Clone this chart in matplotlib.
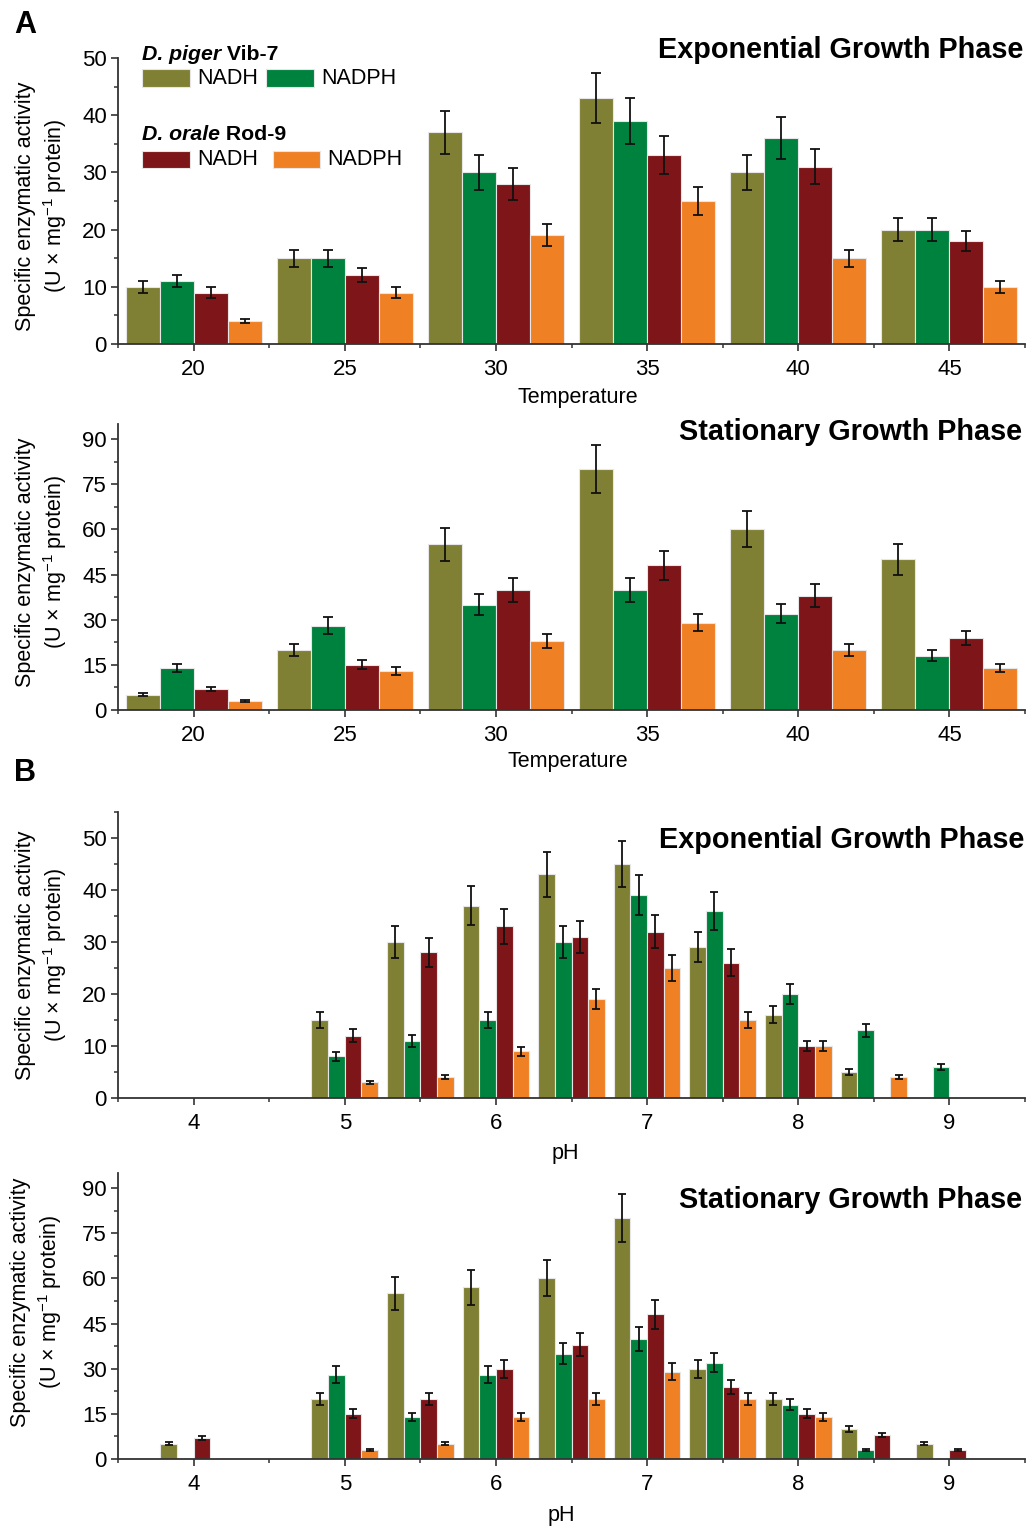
import numpy as np
import matplotlib
matplotlib.use("Agg")
import matplotlib.pyplot as plt
from matplotlib.patches import Rectangle
from matplotlib.ticker import MultipleLocator

plt.rcParams["font.family"] = ["Liberation Sans", "DejaVu Sans"]
plt.rcParams["mathtext.fontset"] = "custom"
plt.rcParams["mathtext.rm"] = "Liberation Sans"
plt.rcParams["mathtext.it"] = "Liberation Sans:italic"

# ---- data ----
temps = [20, 25, 30, 35, 40, 45]
ph_levels = [4.0, 4.5, 5.0, 5.5, 6.0, 6.5, 7.0, 7.5, 8.0, 8.5, 9.0]

series_names = ["D. piger NADH", "D. piger NADPH", "D. orale NADH", "D. orale NADPH"]
colors = ["#808034", "#00823F", "#7E1518", "#F08024"]

# temperature, exponential phase
temp_exp_vals = [
    [10, 15, 37, 43, 30, 20],
    [11, 15, 30, 39, 36, 20],
    [9, 12, 28, 33, 31, 18],
    [4, 9, 19, 25, 15, 10],
]
temp_exp_err = [
    [1.0, 1.5, 3.7, 4.4, 3.1, 2.0],
    [1.1, 1.5, 3.1, 4.0, 3.6, 2.0],
    [0.9, 1.2, 2.8, 3.3, 3.1, 1.8],
    [0.4, 0.9, 1.9, 2.5, 1.5, 1.0],
]

# temperature, stationary phase
temp_stat_vals = [
    [5, 20, 55, 80, 60, 50],
    [14, 28, 35, 40, 32, 18],
    [7, 15, 40, 48, 38, 24],
    [3, 13, 23, 29, 20, 14],
]
temp_stat_err = [
    [0.5, 2.0, 5.5, 8.0, 6.0, 5.0],
    [1.4, 2.8, 3.5, 4.0, 3.2, 1.8],
    [0.7, 1.5, 4.0, 4.8, 3.8, 2.4],
    [0.3, 1.3, 2.3, 2.9, 2.0, 1.4],
]

# pH, exponential phase
ph_exp_vals = [
    [0, 0, 15, 30, 37, 43, 45, 29, 16, 5, 0],
    [0, 0, 8, 11, 15, 30, 39, 36, 20, 13, 6],
    [0, 0, 12, 28, 33, 31, 32, 26, 10, 0, 0],
    [0, 0, 3, 4, 9, 19, 25, 15, 10, 4, 0],
]
ph_exp_err = [
    [0, 0, 1.5, 3.0, 3.7, 4.3, 4.5, 2.9, 1.6, 0.5, 0],
    [0, 0, 0.8, 1.1, 1.5, 3.0, 3.9, 3.6, 2.0, 1.3, 0.6],
    [0, 0, 1.2, 2.8, 3.3, 3.1, 3.2, 2.6, 1.0, 0, 0],
    [0, 0, 0.3, 0.4, 0.9, 1.9, 2.5, 1.5, 1.0, 0.4, 0],
]

# pH, stationary phase
ph_stat_vals = [
    [5, 0, 20, 55, 57, 60, 80, 30, 20, 10, 5],
    [0, 0, 28, 14, 28, 35, 40, 32, 18, 3, 0],
    [7, 0, 15, 20, 30, 38, 48, 24, 15, 8, 3],
    [0, 0, 3, 5, 14, 20, 29, 20, 14, 0, 0],
]
ph_stat_err = [
    [0.5, 0, 2.0, 5.5, 5.7, 6.0, 8.0, 3.0, 2.0, 1.0, 0.5],
    [0, 0, 2.8, 1.4, 2.8, 3.5, 4.0, 3.2, 1.8, 0.3, 0],
    [0.7, 0, 1.5, 2.0, 3.0, 3.8, 4.8, 2.4, 1.5, 0.8, 0.3],
    [0, 0, 0.3, 0.5, 1.4, 2.0, 2.9, 2.0, 1.4, 0, 0],
]

W, H = 1027, 1527
fig = plt.figure(figsize=(W / 100, H / 100), dpi=100)


def px(x, y):
    return x / W, 1 - y / H


def add_axes(top, bottom, left=118, right=1025):
    return fig.add_axes([left / W, 1 - bottom / H, (right - left) / W, (bottom - top) / H])


def draw_panel(ax, xs, vals, errs, width, xlim, ylim, ystep, xstep, capsize):
    xs = np.asarray(xs, dtype=float)
    for i in range(4):
        v = np.asarray(vals[i], dtype=float)
        e = np.asarray(errs[i], dtype=float)
        keep = v > 0
        pos = xs[keep] + (i - 1.5) * width
        ax.bar(pos, v[keep], width, color=colors[i], edgecolor="#e6e6e6",
               linewidth=0.8, label=series_names[i], zorder=2)
        ax.errorbar(pos, v[keep], yerr=e[keep], fmt="none", ecolor="#111111",
                    elinewidth=1.3, capsize=capsize, capthick=1.3, zorder=3)
    ax.set_xlim(*xlim)
    ax.set_ylim(*ylim)
    ax.yaxis.set_major_locator(MultipleLocator(ystep))
    ax.yaxis.set_minor_locator(MultipleLocator(ystep / 2))
    ax.xaxis.set_major_locator(MultipleLocator(xstep))
    ax.xaxis.set_minor_locator(MultipleLocator(xstep / 2))
    for s in ["top", "right"]:
        ax.spines[s].set_visible(False)
    for s in ["left", "bottom"]:
        ax.spines[s].set_color("#333333")
        ax.spines[s].set_linewidth(1.3)
    ax.tick_params(which="major", direction="out", length=5, width=1.2,
                   color="#333333", labelsize=16)
    ax.tick_params(which="minor", direction="out", length=3, width=1.1,
                   color="#333333")
    ax.tick_params(axis="x", which="major", pad=6)
    ax.tick_params(axis="y", which="major", pad=3)


ax1 = add_axes(58, 344)
draw_panel(ax1, temps, temp_exp_vals, temp_exp_err, 1.125, (17.5, 47.5), (0, 50), 10, 5, 3.8)
ax2 = add_axes(424, 710)
draw_panel(ax2, temps, temp_stat_vals, temp_stat_err, 1.125, (17.5, 47.5), (0, 95), 15, 5, 3.8)
ax3 = add_axes(812, 1098)
draw_panel(ax3, ph_levels, ph_exp_vals, ph_exp_err, 0.11, (3.5, 9.5), (0, 55), 10, 1, 3.0)
ax4 = add_axes(1173, 1459)
draw_panel(ax4, ph_levels, ph_stat_vals, ph_stat_err, 0.11, (3.5, 9.5), (0, 95), 15, 1, 3.0)

for ax in (ax1, ax2, ax3, ax4):
    ax.xaxis.set_major_formatter(plt.FuncFormatter(lambda v, p: f"{v:g}"))

# panel titles
title_kw = dict(fontsize=20.8, fontweight="bold", ha="right", va="center")
fig.text(*px(1023, 50), "Exponential Growth Phase", **title_kw)
fig.text(*px(1022, 432), "Stationary Growth Phase", **title_kw)
fig.text(*px(1024, 840), "Exponential Growth Phase", **title_kw)
fig.text(*px(1022, 1200), "Stationary Growth Phase", **title_kw)

# x labels
fig.text(*px(578, 398), "Temperature", fontsize=15.5, ha="center", va="center")
fig.text(*px(568, 762), "Temperature", fontsize=15.5, ha="center", va="center")
fig.text(*px(565, 1153), "pH", fontsize=15.5, ha="center", va="center")
fig.text(*px(561, 1516), "pH", fontsize=15.5, ha="center", va="center")

# y labels
ylab = "Specific enzymatic activity\n(U × mg$^{-1}$ protein)"
for x, y in [(42, 206), (42, 562), (42, 955), (37, 1302)]:
    fig.text(*px(x, y), ylab, fontsize=15.5, rotation=90, ha="center",
             va="center", multialignment="center", linespacing=1.2)

# panel letters
fig.text(*px(14, 25), "A", fontsize=22, fontweight="bold", va="center")
fig.text(*px(14, 773), "B", fontsize=22, fontweight="bold", va="center")


# legend (drawn by hand, as in the figure)
def legend_head(y, species, strain):
    t = fig.text(*px(142, y), species, fontsize=15.3, fontweight="bold",
                 style="italic", va="center")
    ax1.annotate(" " + strain, xy=(1, 0), xycoords=t, fontsize=15.3,
                 fontweight="bold", va="bottom", ha="left",
                 annotation_clip=False)


def legend_patch(x0, x1, y0, y1, color, label, tx):
    fx0, fy1 = px(x0, y1)
    fx1, fy0 = px(x1, y0)
    fig.add_artist(Rectangle((fx0, fy1), fx1 - fx0, fy0 - fy1,
                             transform=fig.transFigure, facecolor=color,
                             edgecolor="#e6e6e6", linewidth=0.8))
    fig.text(*px(tx, (y0 + y1) / 2), label, fontsize=15.5, va="center")


legend_head(54, "D. piger", "Vib-7")
legend_patch(142, 190, 69, 87, colors[0], "NADH", 197)
legend_patch(266, 314, 69, 87, colors[1], "NADPH", 321)
legend_head(134, "D. orale", "Rod-9")
legend_patch(142, 190, 151, 168, colors[2], "NADH", 197)
legend_patch(273, 320, 151, 168, colors[3], "NADPH", 327)

fig.savefig("out.png", dpi=100)
